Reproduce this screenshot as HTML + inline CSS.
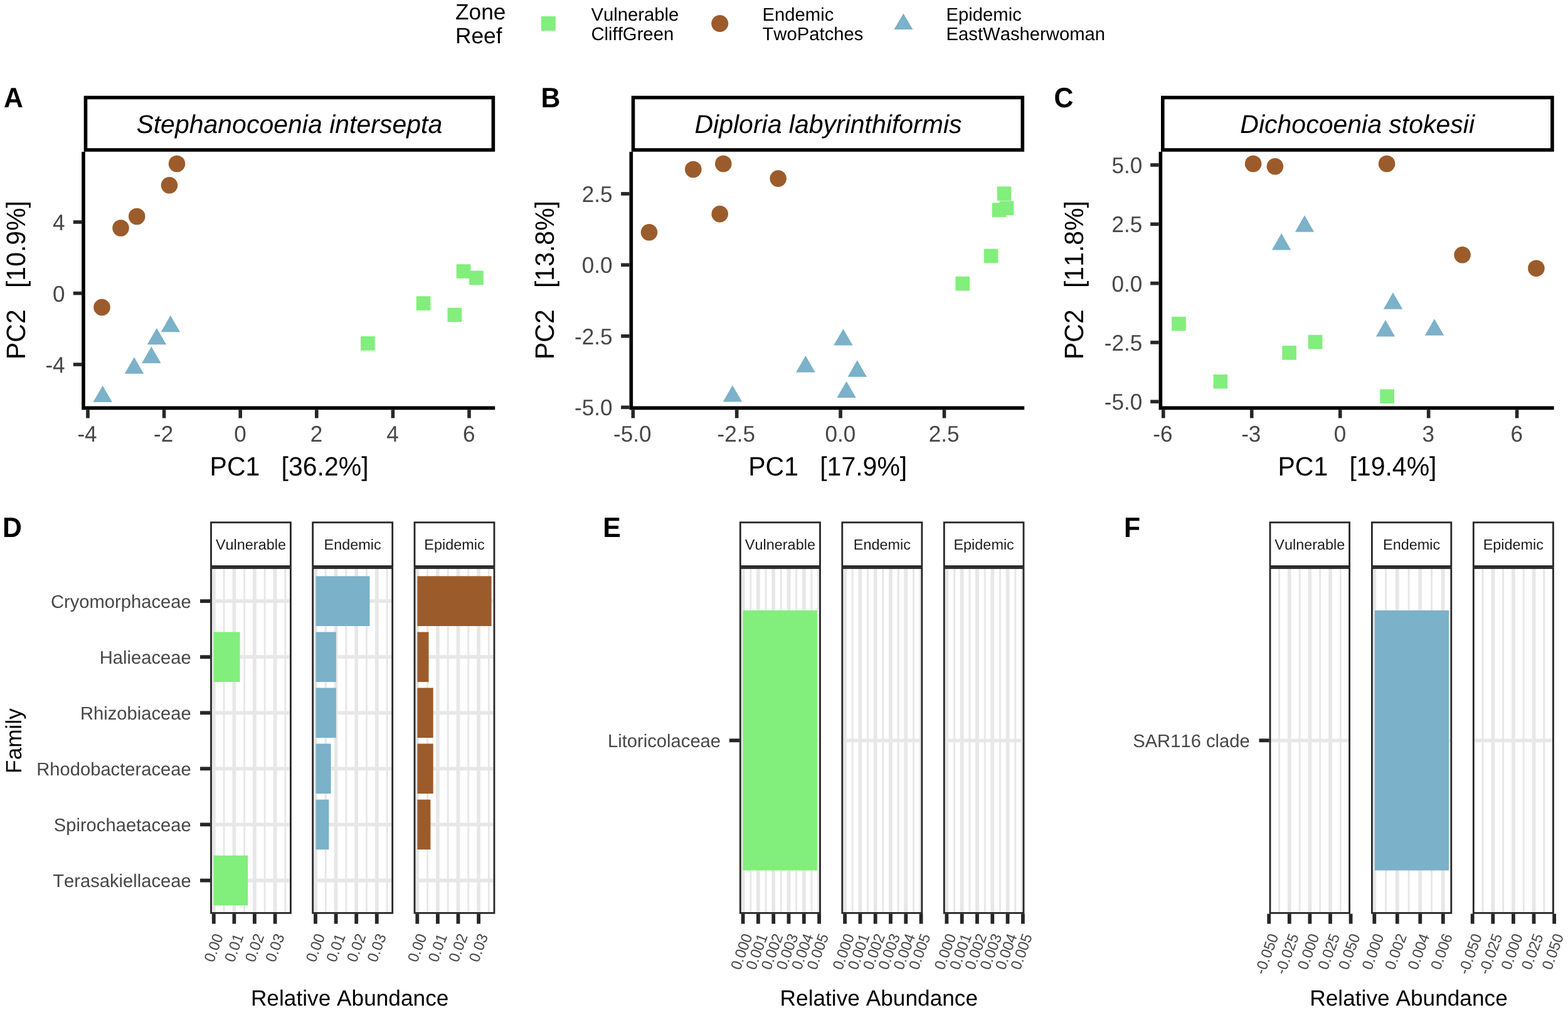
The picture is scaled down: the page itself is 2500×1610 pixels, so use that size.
<!DOCTYPE html>
<html lang="en">
<head>
<meta charset="utf-8">
<title>Figure: PCA by coral species and differentially abundant families</title>
<style>
html,body{margin:0;padding:0;background:#fff;}
body{width:2500px;height:1610px;overflow:hidden;}
svg{display:block;font-family:"Liberation Sans", Arial, Helvetica, sans-serif;}
svg text{font-family:"Liberation Sans", Arial, Helvetica, sans-serif;font-kerning:none;text-rendering:geometricPrecision;}
</style>
</head>
<body>
<svg width="2500" height="1610" viewBox="0 0 2500 1610" role="img" aria-label="PCA ordinations by coral species and relative abundance of differentially abundant bacterial families">
<rect x="0" y="0" width="2500" height="1610" fill="#ffffff"/>
<text font-size="35.3" fill="#000" x="726.00" y="31.10">Zone</text>
<text font-size="35.3" fill="#000" x="726.00" y="68.60">Reef</text>
<rect x="862.8" y="26.0" width="23" height="23" fill="#82EE7C"/>
<text font-size="29.25" fill="#000" x="942.50" y="32.90">Vulnerable</text>
<text font-size="29.25" fill="#000" x="942.50" y="63.50">CliffGreen</text>
<circle cx="1147.7" cy="37.5" r="13.5" fill="#9C5B2B"/>
<text font-size="29.25" fill="#000" x="1215.50" y="32.90">Endemic</text>
<text font-size="29.25" fill="#000" x="1215.50" y="63.50">TwoPatches</text>
<polygon points="1440.4,21.5 1455.4,46.9 1425.4,46.9" fill="#7BB1C9"/>
<text font-size="29.25" fill="#000" x="1508.50" y="32.90">Epidemic</text>
<text font-size="29.25" fill="#000" x="1508.50" y="63.50">EastWasherwoman</text>
<text font-size="42.8" fill="#000" font-weight="bold" transform="translate(6.00,170.50) scale(1,1.045)">A</text>
<rect x="136.5" y="155.5" width="649.9" height="83.5" fill="#fff" stroke="#000" stroke-width="5.6"/>
<text font-size="41.0" fill="#000" text-anchor="middle" font-style="italic" x="461.30" y="212.30">Stephanocoenia intersepta</text>
<rect x="727.7" y="421.2" width="22.6" height="22.6" fill="#82EE7C"/>
<rect x="748.2" y="431.5" width="22.6" height="22.6" fill="#82EE7C"/>
<rect x="663.8" y="472.2" width="22.6" height="22.6" fill="#82EE7C"/>
<rect x="713.5" y="490.6" width="22.6" height="22.6" fill="#82EE7C"/>
<rect x="575.1" y="536.1" width="22.6" height="22.6" fill="#82EE7C"/>
<polygon points="271.8,502.8 287.1,529.2 256.6,529.2" fill="#7BB1C9"/>
<polygon points="249.9,522.9 265.1,549.3 234.7,549.3" fill="#7BB1C9"/>
<polygon points="241.3,552.5 256.6,578.9 226.1,578.9" fill="#7BB1C9"/>
<polygon points="213.9,569.3 229.2,595.7 198.7,595.7" fill="#7BB1C9"/>
<polygon points="163.7,614.7 178.9,641.1 148.4,641.1" fill="#7BB1C9"/>
<circle cx="282.0" cy="261.0" r="13.3" fill="#9C5B2B"/>
<circle cx="270.0" cy="295.3" r="13.3" fill="#9C5B2B"/>
<circle cx="218.2" cy="345.0" r="13.3" fill="#9C5B2B"/>
<circle cx="192.5" cy="363.5" r="13.3" fill="#9C5B2B"/>
<circle cx="162.5" cy="489.9" r="13.3" fill="#9C5B2B"/>
<path d="M133.0,242.0 V650.4 H789.2" fill="none" stroke="#000" stroke-width="5.6" stroke-linejoin="miter"/>
<line x1="140.0" y1="653.2" x2="140.0" y2="666.5" stroke="#262626" stroke-width="5.6"/>
<text font-size="35.1" fill="#474747" text-anchor="middle" transform="translate(139.00,704.40) scale(1,1.03)">-4</text>
<line x1="261.6" y1="653.2" x2="261.6" y2="666.5" stroke="#262626" stroke-width="5.6"/>
<text font-size="35.1" fill="#474747" text-anchor="middle" transform="translate(260.60,704.40) scale(1,1.03)">-2</text>
<line x1="383.2" y1="653.2" x2="383.2" y2="666.5" stroke="#262626" stroke-width="5.6"/>
<text font-size="35.1" fill="#474747" text-anchor="middle" transform="translate(382.90,704.40) scale(1,1.03)">0</text>
<line x1="504.79999999999995" y1="653.2" x2="504.79999999999995" y2="666.5" stroke="#262626" stroke-width="5.6"/>
<text font-size="35.1" fill="#474747" text-anchor="middle" transform="translate(504.50,704.40) scale(1,1.03)">2</text>
<line x1="626.4" y1="653.2" x2="626.4" y2="666.5" stroke="#262626" stroke-width="5.6"/>
<text font-size="35.1" fill="#474747" text-anchor="middle" transform="translate(626.10,704.40) scale(1,1.03)">4</text>
<line x1="748.0" y1="653.2" x2="748.0" y2="666.5" stroke="#262626" stroke-width="5.6"/>
<text font-size="35.1" fill="#474747" text-anchor="middle" transform="translate(747.70,704.40) scale(1,1.03)">6</text>
<line x1="116.8" y1="354.0" x2="130.2" y2="354.0" stroke="#262626" stroke-width="5.6"/>
<text font-size="35.1" fill="#474747" text-anchor="end" transform="translate(103.60,367.00) scale(1,1.03)">4</text>
<line x1="116.8" y1="467.5" x2="130.2" y2="467.5" stroke="#262626" stroke-width="5.6"/>
<text font-size="35.1" fill="#474747" text-anchor="end" transform="translate(103.60,480.50) scale(1,1.03)">0</text>
<line x1="116.8" y1="581.0" x2="130.2" y2="581.0" stroke="#262626" stroke-width="5.6"/>
<text font-size="35.1" fill="#474747" text-anchor="end" transform="translate(103.60,594.00) scale(1,1.03)">-4</text>
<text font-size="41" fill="#000" text-anchor="middle" transform="translate(461.10,757.60) scale(1,1.035)" xml:space="preserve" style="white-space:pre">PC1   [36.2%]</text>
<text font-size="41" fill="#000" text-anchor="middle" transform="translate(40.00,446.50) rotate(-90) scale(1,1.035)" xml:space="preserve" style="white-space:pre">PC2   [10.9%]</text>
<text font-size="42.8" fill="#000" font-weight="bold" transform="translate(862.40,170.50) scale(1,1.045)">B</text>
<rect x="1009.5" y="155.5" width="620.8" height="83.5" fill="#fff" stroke="#000" stroke-width="5.6"/>
<text font-size="41.0" fill="#000" text-anchor="middle" font-style="italic" x="1320.50" y="212.30">Diploria labyrinthiformis</text>
<rect x="1589.8" y="297.3" width="22.6" height="22.6" fill="#82EE7C"/>
<rect x="1593.7" y="320.4" width="22.6" height="22.6" fill="#82EE7C"/>
<rect x="1581.7" y="323.4" width="22.6" height="22.6" fill="#82EE7C"/>
<rect x="1568.8" y="396.7" width="22.6" height="22.6" fill="#82EE7C"/>
<rect x="1523.4" y="440.8" width="22.6" height="22.6" fill="#82EE7C"/>
<polygon points="1344.4,524.2 1359.7,550.6 1329.2,550.6" fill="#7BB1C9"/>
<polygon points="1284.4,567.0 1299.7,593.4 1269.2,593.4" fill="#7BB1C9"/>
<polygon points="1366.7,574.3 1382.0,600.7 1351.5,600.7" fill="#7BB1C9"/>
<polygon points="1349.6,607.7 1364.8,634.1 1334.3,634.1" fill="#7BB1C9"/>
<polygon points="1167.9,614.2 1183.2,640.6 1152.7,640.6" fill="#7BB1C9"/>
<circle cx="1105.3" cy="270.0" r="13.3" fill="#9C5B2B"/>
<circle cx="1153.3" cy="261.0" r="13.3" fill="#9C5B2B"/>
<circle cx="1240.7" cy="284.6" r="13.3" fill="#9C5B2B"/>
<circle cx="1147.7" cy="341.1" r="13.3" fill="#9C5B2B"/>
<circle cx="1035.0" cy="370.3" r="13.3" fill="#9C5B2B"/>
<path d="M1006.3,242.0 V650.4 H1633.2" fill="none" stroke="#000" stroke-width="5.6" stroke-linejoin="miter"/>
<line x1="1009.3" y1="653.2" x2="1009.3" y2="666.5" stroke="#262626" stroke-width="5.6"/>
<text font-size="35.1" fill="#474747" text-anchor="middle" transform="translate(1008.30,704.40) scale(1,1.03)">-5.0</text>
<line x1="1174.7" y1="653.2" x2="1174.7" y2="666.5" stroke="#262626" stroke-width="5.6"/>
<text font-size="35.1" fill="#474747" text-anchor="middle" transform="translate(1173.70,704.40) scale(1,1.03)">-2.5</text>
<line x1="1340.1" y1="653.2" x2="1340.1" y2="666.5" stroke="#262626" stroke-width="5.6"/>
<text font-size="35.1" fill="#474747" text-anchor="middle" transform="translate(1339.80,704.40) scale(1,1.03)">0.0</text>
<line x1="1505.5" y1="653.2" x2="1505.5" y2="666.5" stroke="#262626" stroke-width="5.6"/>
<text font-size="35.1" fill="#474747" text-anchor="middle" transform="translate(1505.20,704.40) scale(1,1.03)">2.5</text>
<line x1="990.1" y1="308.9" x2="1003.5" y2="308.9" stroke="#262626" stroke-width="5.6"/>
<text font-size="35.1" fill="#474747" text-anchor="end" transform="translate(976.50,321.90) scale(1,1.03)">2.5</text>
<line x1="990.1" y1="422.3" x2="1003.5" y2="422.3" stroke="#262626" stroke-width="5.6"/>
<text font-size="35.1" fill="#474747" text-anchor="end" transform="translate(976.50,435.30) scale(1,1.03)">0.0</text>
<line x1="990.1" y1="535.8" x2="1003.5" y2="535.8" stroke="#262626" stroke-width="5.6"/>
<text font-size="35.1" fill="#474747" text-anchor="end" transform="translate(976.50,548.80) scale(1,1.03)">-2.5</text>
<line x1="990.1" y1="649.3" x2="1003.5" y2="649.3" stroke="#262626" stroke-width="5.6"/>
<text font-size="35.1" fill="#474747" text-anchor="end" transform="translate(976.50,662.30) scale(1,1.03)">-5.0</text>
<text font-size="41" fill="#000" text-anchor="middle" transform="translate(1319.75,757.60) scale(1,1.035)" xml:space="preserve" style="white-space:pre">PC1   [17.9%]</text>
<text font-size="41" fill="#000" text-anchor="middle" transform="translate(883.20,446.50) rotate(-90) scale(1,1.035)" xml:space="preserve" style="white-space:pre">PC2   [13.8%]</text>
<text font-size="42.8" fill="#000" font-weight="bold" transform="translate(1680.60,170.50) scale(1,1.045)">C</text>
<rect x="1853.8" y="155.5" width="621.1" height="83.5" fill="#fff" stroke="#000" stroke-width="5.6"/>
<text font-size="41.0" fill="#000" text-anchor="middle" font-style="italic" x="2164.20" y="212.30">Dichocoenia stokesii</text>
<rect x="1868.1" y="504.8" width="22.6" height="22.6" fill="#82EE7C"/>
<rect x="2085.8" y="533.9" width="22.6" height="22.6" fill="#82EE7C"/>
<rect x="2044.3" y="551.1" width="22.6" height="22.6" fill="#82EE7C"/>
<rect x="1934.6" y="596.9" width="22.6" height="22.6" fill="#82EE7C"/>
<rect x="2200.3" y="620.5" width="22.6" height="22.6" fill="#82EE7C"/>
<polygon points="2080.0,343.3 2095.2,369.7 2064.8,369.7" fill="#7BB1C9"/>
<polygon points="2043.1,372.0 2058.3,398.4 2027.8,398.4" fill="#7BB1C9"/>
<polygon points="2221.0,466.3 2236.2,492.7 2205.8,492.7" fill="#7BB1C9"/>
<polygon points="2209.0,510.0 2224.2,536.4 2193.8,536.4" fill="#7BB1C9"/>
<polygon points="2287.0,508.3 2302.2,534.7 2271.8,534.7" fill="#7BB1C9"/>
<circle cx="1998.1" cy="261.0" r="13.3" fill="#9C5B2B"/>
<circle cx="2032.9" cy="265.3" r="13.3" fill="#9C5B2B"/>
<circle cx="2211.1" cy="261.0" r="13.3" fill="#9C5B2B"/>
<circle cx="2331.6" cy="406.3" r="13.3" fill="#9C5B2B"/>
<circle cx="2449.4" cy="427.7" r="13.3" fill="#9C5B2B"/>
<path d="M1850.4,242.0 V650.4 H2477.6" fill="none" stroke="#000" stroke-width="5.6" stroke-linejoin="miter"/>
<line x1="1854.8" y1="653.2" x2="1854.8" y2="666.5" stroke="#262626" stroke-width="5.6"/>
<text font-size="35.1" fill="#474747" text-anchor="middle" transform="translate(1853.80,704.40) scale(1,1.03)">-6</text>
<line x1="1995.75" y1="653.2" x2="1995.75" y2="666.5" stroke="#262626" stroke-width="5.6"/>
<text font-size="35.1" fill="#474747" text-anchor="middle" transform="translate(1994.75,704.40) scale(1,1.03)">-3</text>
<line x1="2136.7" y1="653.2" x2="2136.7" y2="666.5" stroke="#262626" stroke-width="5.6"/>
<text font-size="35.1" fill="#474747" text-anchor="middle" transform="translate(2136.40,704.40) scale(1,1.03)">0</text>
<line x1="2277.65" y1="653.2" x2="2277.65" y2="666.5" stroke="#262626" stroke-width="5.6"/>
<text font-size="35.1" fill="#474747" text-anchor="middle" transform="translate(2277.35,704.40) scale(1,1.03)">3</text>
<line x1="2418.6" y1="653.2" x2="2418.6" y2="666.5" stroke="#262626" stroke-width="5.6"/>
<text font-size="35.1" fill="#474747" text-anchor="middle" transform="translate(2418.30,704.40) scale(1,1.03)">6</text>
<line x1="1834.2" y1="263.0" x2="1847.6" y2="263.0" stroke="#262626" stroke-width="5.6"/>
<text font-size="35.1" fill="#474747" text-anchor="end" transform="translate(1821.20,276.00) scale(1,1.03)">5.0</text>
<line x1="1834.2" y1="357.3" x2="1847.6" y2="357.3" stroke="#262626" stroke-width="5.6"/>
<text font-size="35.1" fill="#474747" text-anchor="end" transform="translate(1821.20,370.30) scale(1,1.03)">2.5</text>
<line x1="1834.2" y1="451.6" x2="1847.6" y2="451.6" stroke="#262626" stroke-width="5.6"/>
<text font-size="35.1" fill="#474747" text-anchor="end" transform="translate(1821.20,464.60) scale(1,1.03)">0.0</text>
<line x1="1834.2" y1="545.9" x2="1847.6" y2="545.9" stroke="#262626" stroke-width="5.6"/>
<text font-size="35.1" fill="#474747" text-anchor="end" transform="translate(1821.20,558.90) scale(1,1.03)">-2.5</text>
<line x1="1834.2" y1="640.2" x2="1847.6" y2="640.2" stroke="#262626" stroke-width="5.6"/>
<text font-size="35.1" fill="#474747" text-anchor="end" transform="translate(1821.20,653.20) scale(1,1.03)">-5.0</text>
<text font-size="41" fill="#000" text-anchor="middle" transform="translate(2164.00,757.60) scale(1,1.035)" xml:space="preserve" style="white-space:pre">PC1   [19.4%]</text>
<text font-size="41" fill="#000" text-anchor="middle" transform="translate(1727.20,446.50) rotate(-90) scale(1,1.035)" xml:space="preserve" style="white-space:pre">PC2   [11.8%]</text>
<text font-size="42.8" fill="#000" font-weight="bold" transform="translate(4.00,856.20) scale(1,1.045)">D</text>
<clipPath id="cp1"><rect x="336.5" y="905.5" width="126.9" height="549.9"/></clipPath>
<g clip-path="url(#cp1)">
<line x1="357.1" y1="905.5" x2="357.1" y2="1455.4" stroke="#E7E7E7" stroke-width="2.9"/>
<line x1="389.7" y1="905.5" x2="389.7" y2="1455.4" stroke="#E7E7E7" stroke-width="2.9"/>
<line x1="422.2" y1="905.5" x2="422.2" y2="1455.4" stroke="#E7E7E7" stroke-width="2.9"/>
<line x1="454.9" y1="905.5" x2="454.9" y2="1455.4" stroke="#E7E7E7" stroke-width="2.9"/>
<line x1="340.8" y1="905.5" x2="340.8" y2="1455.4" stroke="#E7E7E7" stroke-width="5.8"/>
<line x1="373.4" y1="905.5" x2="373.4" y2="1455.4" stroke="#E7E7E7" stroke-width="5.8"/>
<line x1="405.9" y1="905.5" x2="405.9" y2="1455.4" stroke="#E7E7E7" stroke-width="5.8"/>
<line x1="438.6" y1="905.5" x2="438.6" y2="1455.4" stroke="#E7E7E7" stroke-width="5.8"/>
<line x1="336.5" y1="958.2" x2="463.4" y2="958.2" stroke="#E7E7E7" stroke-width="5.8"/>
<line x1="336.5" y1="1047.2" x2="463.4" y2="1047.2" stroke="#E7E7E7" stroke-width="5.8"/>
<line x1="336.5" y1="1136.3" x2="463.4" y2="1136.3" stroke="#E7E7E7" stroke-width="5.8"/>
<line x1="336.5" y1="1225.3" x2="463.4" y2="1225.3" stroke="#E7E7E7" stroke-width="5.8"/>
<line x1="336.5" y1="1314.4" x2="463.4" y2="1314.4" stroke="#E7E7E7" stroke-width="5.8"/>
<line x1="336.5" y1="1403.5" x2="463.4" y2="1403.5" stroke="#E7E7E7" stroke-width="5.8"/>
<rect x="340.6" y="1007.5" width="42.0" height="79.6" fill="#82EE7C"/>
<rect x="340.6" y="1363.7" width="54.6" height="79.6" fill="#82EE7C"/>
</g>
<rect x="336.5" y="905.5" width="126.9" height="549.9" fill="none" stroke="#262626" stroke-width="2.8"/>
<rect x="336.5" y="832.8" width="126.9" height="69.8" fill="#fff" stroke="#262626" stroke-width="2.8"/>
<text font-size="23.45" fill="#1A1A1A" text-anchor="middle" x="399.95" y="876.20">Vulnerable</text>
<line x1="340.8" y1="1456.6" x2="340.8" y2="1472.6" stroke="#262626" stroke-width="5.8"/>
<text font-size="23.5" fill="#474747" text-anchor="end" transform="translate(356.15,1492.20) rotate(-70) scale(1,1.03)">0.00</text>
<line x1="373.4" y1="1456.6" x2="373.4" y2="1472.6" stroke="#262626" stroke-width="5.8"/>
<text font-size="23.5" fill="#474747" text-anchor="end" transform="translate(388.75,1492.20) rotate(-70) scale(1,1.03)">0.01</text>
<line x1="405.9" y1="1456.6" x2="405.9" y2="1472.6" stroke="#262626" stroke-width="5.8"/>
<text font-size="23.5" fill="#474747" text-anchor="end" transform="translate(421.35,1492.20) rotate(-70) scale(1,1.03)">0.02</text>
<line x1="438.6" y1="1456.6" x2="438.6" y2="1472.6" stroke="#262626" stroke-width="5.8"/>
<text font-size="23.5" fill="#474747" text-anchor="end" transform="translate(453.95,1492.20) rotate(-70) scale(1,1.03)">0.03</text>
<clipPath id="cp2"><rect x="498.7" y="905.5" width="127.0" height="549.9"/></clipPath>
<g clip-path="url(#cp2)">
<line x1="519.3" y1="905.5" x2="519.3" y2="1455.4" stroke="#E7E7E7" stroke-width="2.9"/>
<line x1="551.9" y1="905.5" x2="551.9" y2="1455.4" stroke="#E7E7E7" stroke-width="2.9"/>
<line x1="584.5" y1="905.5" x2="584.5" y2="1455.4" stroke="#E7E7E7" stroke-width="2.9"/>
<line x1="617.1" y1="905.5" x2="617.1" y2="1455.4" stroke="#E7E7E7" stroke-width="2.9"/>
<line x1="503.0" y1="905.5" x2="503.0" y2="1455.4" stroke="#E7E7E7" stroke-width="5.8"/>
<line x1="535.6" y1="905.5" x2="535.6" y2="1455.4" stroke="#E7E7E7" stroke-width="5.8"/>
<line x1="568.2" y1="905.5" x2="568.2" y2="1455.4" stroke="#E7E7E7" stroke-width="5.8"/>
<line x1="600.8" y1="905.5" x2="600.8" y2="1455.4" stroke="#E7E7E7" stroke-width="5.8"/>
<line x1="498.7" y1="958.2" x2="625.7" y2="958.2" stroke="#E7E7E7" stroke-width="5.8"/>
<line x1="498.7" y1="1047.2" x2="625.7" y2="1047.2" stroke="#E7E7E7" stroke-width="5.8"/>
<line x1="498.7" y1="1136.3" x2="625.7" y2="1136.3" stroke="#E7E7E7" stroke-width="5.8"/>
<line x1="498.7" y1="1225.3" x2="625.7" y2="1225.3" stroke="#E7E7E7" stroke-width="5.8"/>
<line x1="498.7" y1="1314.4" x2="625.7" y2="1314.4" stroke="#E7E7E7" stroke-width="5.8"/>
<line x1="498.7" y1="1403.5" x2="625.7" y2="1403.5" stroke="#E7E7E7" stroke-width="5.8"/>
<rect x="503.6" y="918.4" width="85.9" height="79.6" fill="#7BB1C9"/>
<rect x="503.6" y="1007.5" width="32.3" height="79.6" fill="#7BB1C9"/>
<rect x="503.6" y="1096.5" width="32.3" height="79.6" fill="#7BB1C9"/>
<rect x="503.6" y="1185.5" width="24.0" height="79.6" fill="#7BB1C9"/>
<rect x="503.6" y="1274.6" width="20.8" height="79.6" fill="#7BB1C9"/>
</g>
<rect x="498.7" y="905.5" width="127.0" height="549.9" fill="none" stroke="#262626" stroke-width="2.8"/>
<rect x="498.7" y="832.8" width="127.0" height="69.8" fill="#fff" stroke="#262626" stroke-width="2.8"/>
<text font-size="23.45" fill="#1A1A1A" text-anchor="middle" x="562.20" y="876.20">Endemic</text>
<line x1="503.0" y1="1456.6" x2="503.0" y2="1472.6" stroke="#262626" stroke-width="5.8"/>
<text font-size="23.5" fill="#474747" text-anchor="end" transform="translate(518.40,1492.20) rotate(-70) scale(1,1.03)">0.00</text>
<line x1="535.6" y1="1456.6" x2="535.6" y2="1472.6" stroke="#262626" stroke-width="5.8"/>
<text font-size="23.5" fill="#474747" text-anchor="end" transform="translate(551.00,1492.20) rotate(-70) scale(1,1.03)">0.01</text>
<line x1="568.2" y1="1456.6" x2="568.2" y2="1472.6" stroke="#262626" stroke-width="5.8"/>
<text font-size="23.5" fill="#474747" text-anchor="end" transform="translate(583.60,1492.20) rotate(-70) scale(1,1.03)">0.02</text>
<line x1="600.8" y1="1456.6" x2="600.8" y2="1472.6" stroke="#262626" stroke-width="5.8"/>
<text font-size="23.5" fill="#474747" text-anchor="end" transform="translate(616.20,1492.20) rotate(-70) scale(1,1.03)">0.03</text>
<clipPath id="cp3"><rect x="661.0" y="905.5" width="127.0" height="549.9"/></clipPath>
<g clip-path="url(#cp3)">
<line x1="681.6" y1="905.5" x2="681.6" y2="1455.4" stroke="#E7E7E7" stroke-width="2.9"/>
<line x1="714.2" y1="905.5" x2="714.2" y2="1455.4" stroke="#E7E7E7" stroke-width="2.9"/>
<line x1="746.8" y1="905.5" x2="746.8" y2="1455.4" stroke="#E7E7E7" stroke-width="2.9"/>
<line x1="779.4" y1="905.5" x2="779.4" y2="1455.4" stroke="#E7E7E7" stroke-width="2.9"/>
<line x1="665.3" y1="905.5" x2="665.3" y2="1455.4" stroke="#E7E7E7" stroke-width="5.8"/>
<line x1="697.9" y1="905.5" x2="697.9" y2="1455.4" stroke="#E7E7E7" stroke-width="5.8"/>
<line x1="730.5" y1="905.5" x2="730.5" y2="1455.4" stroke="#E7E7E7" stroke-width="5.8"/>
<line x1="763.1" y1="905.5" x2="763.1" y2="1455.4" stroke="#E7E7E7" stroke-width="5.8"/>
<line x1="661.0" y1="958.2" x2="788.0" y2="958.2" stroke="#E7E7E7" stroke-width="5.8"/>
<line x1="661.0" y1="1047.2" x2="788.0" y2="1047.2" stroke="#E7E7E7" stroke-width="5.8"/>
<line x1="661.0" y1="1136.3" x2="788.0" y2="1136.3" stroke="#E7E7E7" stroke-width="5.8"/>
<line x1="661.0" y1="1225.3" x2="788.0" y2="1225.3" stroke="#E7E7E7" stroke-width="5.8"/>
<line x1="661.0" y1="1314.4" x2="788.0" y2="1314.4" stroke="#E7E7E7" stroke-width="5.8"/>
<line x1="661.0" y1="1403.5" x2="788.0" y2="1403.5" stroke="#E7E7E7" stroke-width="5.8"/>
<rect x="665.4" y="918.4" width="118.2" height="79.6" fill="#9C5B2B"/>
<rect x="665.4" y="1007.5" width="18.1" height="79.6" fill="#9C5B2B"/>
<rect x="665.4" y="1096.5" width="25.3" height="79.6" fill="#9C5B2B"/>
<rect x="665.4" y="1185.5" width="25.3" height="79.6" fill="#9C5B2B"/>
<rect x="665.4" y="1274.6" width="21.0" height="79.6" fill="#9C5B2B"/>
</g>
<rect x="661.0" y="905.5" width="127.0" height="549.9" fill="none" stroke="#262626" stroke-width="2.8"/>
<rect x="661.0" y="832.8" width="127.0" height="69.8" fill="#fff" stroke="#262626" stroke-width="2.8"/>
<text font-size="23.45" fill="#1A1A1A" text-anchor="middle" x="724.50" y="876.20">Epidemic</text>
<line x1="665.3" y1="1456.6" x2="665.3" y2="1472.6" stroke="#262626" stroke-width="5.8"/>
<text font-size="23.5" fill="#474747" text-anchor="end" transform="translate(680.70,1492.20) rotate(-70) scale(1,1.03)">0.00</text>
<line x1="697.9" y1="1456.6" x2="697.9" y2="1472.6" stroke="#262626" stroke-width="5.8"/>
<text font-size="23.5" fill="#474747" text-anchor="end" transform="translate(713.30,1492.20) rotate(-70) scale(1,1.03)">0.01</text>
<line x1="730.5" y1="1456.6" x2="730.5" y2="1472.6" stroke="#262626" stroke-width="5.8"/>
<text font-size="23.5" fill="#474747" text-anchor="end" transform="translate(745.90,1492.20) rotate(-70) scale(1,1.03)">0.02</text>
<line x1="763.1" y1="1456.6" x2="763.1" y2="1472.6" stroke="#262626" stroke-width="5.8"/>
<text font-size="23.5" fill="#474747" text-anchor="end" transform="translate(778.50,1492.20) rotate(-70) scale(1,1.03)">0.03</text>
<line x1="319.0" y1="958.2" x2="335.1" y2="958.2" stroke="#262626" stroke-width="5.8"/>
<text font-size="29.2" fill="#474747" text-anchor="end" x="304.80" y="969.00">Cryomorphaceae</text>
<line x1="319.0" y1="1047.2" x2="335.1" y2="1047.2" stroke="#262626" stroke-width="5.8"/>
<text font-size="29.2" fill="#474747" text-anchor="end" x="304.80" y="1058.05">Halieaceae</text>
<line x1="319.0" y1="1136.3" x2="335.1" y2="1136.3" stroke="#262626" stroke-width="5.8"/>
<text font-size="29.2" fill="#474747" text-anchor="end" x="304.80" y="1147.10">Rhizobiaceae</text>
<line x1="319.0" y1="1225.3" x2="335.1" y2="1225.3" stroke="#262626" stroke-width="5.8"/>
<text font-size="29.2" fill="#474747" text-anchor="end" x="304.80" y="1236.15">Rhodobacteraceae</text>
<line x1="319.0" y1="1314.4" x2="335.1" y2="1314.4" stroke="#262626" stroke-width="5.8"/>
<text font-size="29.2" fill="#474747" text-anchor="end" x="304.80" y="1325.20">Spirochaetaceae</text>
<line x1="319.0" y1="1403.5" x2="335.1" y2="1403.5" stroke="#262626" stroke-width="5.8"/>
<text font-size="29.2" fill="#474747" text-anchor="end" x="304.80" y="1414.25">Terasakiellaceae</text>
<text font-size="35.25" fill="#000" text-anchor="middle" x="557.65" y="1602.80">Relative Abundance</text>
<text font-size="35.25" fill="#000" text-anchor="middle" transform="translate(34.20,1181.00) rotate(-90)">Family</text>
<text font-size="42.8" fill="#000" font-weight="bold" transform="translate(961.20,856.20) scale(1,1.045)">E</text>
<clipPath id="cp4"><rect x="1180.3" y="905.5" width="127.2" height="549.9"/></clipPath>
<g clip-path="url(#cp4)">
<line x1="1196.8" y1="905.5" x2="1196.8" y2="1455.4" stroke="#E7E7E7" stroke-width="2.9"/>
<line x1="1221.0" y1="905.5" x2="1221.0" y2="1455.4" stroke="#E7E7E7" stroke-width="2.9"/>
<line x1="1245.3" y1="905.5" x2="1245.3" y2="1455.4" stroke="#E7E7E7" stroke-width="2.9"/>
<line x1="1269.7" y1="905.5" x2="1269.7" y2="1455.4" stroke="#E7E7E7" stroke-width="2.9"/>
<line x1="1294.0" y1="905.5" x2="1294.0" y2="1455.4" stroke="#E7E7E7" stroke-width="2.9"/>
<line x1="1184.6" y1="905.5" x2="1184.6" y2="1455.4" stroke="#E7E7E7" stroke-width="5.8"/>
<line x1="1208.9" y1="905.5" x2="1208.9" y2="1455.4" stroke="#E7E7E7" stroke-width="5.8"/>
<line x1="1233.2" y1="905.5" x2="1233.2" y2="1455.4" stroke="#E7E7E7" stroke-width="5.8"/>
<line x1="1257.5" y1="905.5" x2="1257.5" y2="1455.4" stroke="#E7E7E7" stroke-width="5.8"/>
<line x1="1281.8" y1="905.5" x2="1281.8" y2="1455.4" stroke="#E7E7E7" stroke-width="5.8"/>
<line x1="1306.1" y1="905.5" x2="1306.1" y2="1455.4" stroke="#E7E7E7" stroke-width="5.8"/>
<line x1="1180.3" y1="1180.3" x2="1307.5" y2="1180.3" stroke="#E7E7E7" stroke-width="5.8"/>
<rect x="1184.5" y="973.0" width="118.4" height="414.5" fill="#82EE7C"/>
</g>
<rect x="1180.3" y="905.5" width="127.2" height="549.9" fill="none" stroke="#262626" stroke-width="2.8"/>
<rect x="1180.3" y="832.8" width="127.2" height="69.8" fill="#fff" stroke="#262626" stroke-width="2.8"/>
<text font-size="23.45" fill="#1A1A1A" text-anchor="middle" x="1243.90" y="876.20">Vulnerable</text>
<line x1="1184.6" y1="1456.6" x2="1184.6" y2="1472.6" stroke="#262626" stroke-width="5.8"/>
<text font-size="23.5" fill="#474747" text-anchor="end" transform="translate(1200.00,1492.20) rotate(-70) scale(1,1.03)">0.000</text>
<line x1="1208.9" y1="1456.6" x2="1208.9" y2="1472.6" stroke="#262626" stroke-width="5.8"/>
<text font-size="23.5" fill="#474747" text-anchor="end" transform="translate(1224.30,1492.20) rotate(-70) scale(1,1.03)">0.001</text>
<line x1="1233.2" y1="1456.6" x2="1233.2" y2="1472.6" stroke="#262626" stroke-width="5.8"/>
<text font-size="23.5" fill="#474747" text-anchor="end" transform="translate(1248.60,1492.20) rotate(-70) scale(1,1.03)">0.002</text>
<line x1="1257.5" y1="1456.6" x2="1257.5" y2="1472.6" stroke="#262626" stroke-width="5.8"/>
<text font-size="23.5" fill="#474747" text-anchor="end" transform="translate(1272.90,1492.20) rotate(-70) scale(1,1.03)">0.003</text>
<line x1="1281.8" y1="1456.6" x2="1281.8" y2="1472.6" stroke="#262626" stroke-width="5.8"/>
<text font-size="23.5" fill="#474747" text-anchor="end" transform="translate(1297.20,1492.20) rotate(-70) scale(1,1.03)">0.004</text>
<line x1="1306.1" y1="1456.6" x2="1306.1" y2="1472.6" stroke="#262626" stroke-width="5.8"/>
<text font-size="23.5" fill="#474747" text-anchor="end" transform="translate(1321.50,1492.20) rotate(-70) scale(1,1.03)">0.005</text>
<clipPath id="cp5"><rect x="1342.8" y="905.5" width="127.1" height="549.9"/></clipPath>
<g clip-path="url(#cp5)">
<line x1="1359.2" y1="905.5" x2="1359.2" y2="1455.4" stroke="#E7E7E7" stroke-width="2.9"/>
<line x1="1383.5" y1="905.5" x2="1383.5" y2="1455.4" stroke="#E7E7E7" stroke-width="2.9"/>
<line x1="1407.8" y1="905.5" x2="1407.8" y2="1455.4" stroke="#E7E7E7" stroke-width="2.9"/>
<line x1="1432.2" y1="905.5" x2="1432.2" y2="1455.4" stroke="#E7E7E7" stroke-width="2.9"/>
<line x1="1456.5" y1="905.5" x2="1456.5" y2="1455.4" stroke="#E7E7E7" stroke-width="2.9"/>
<line x1="1347.1" y1="905.5" x2="1347.1" y2="1455.4" stroke="#E7E7E7" stroke-width="5.8"/>
<line x1="1371.4" y1="905.5" x2="1371.4" y2="1455.4" stroke="#E7E7E7" stroke-width="5.8"/>
<line x1="1395.7" y1="905.5" x2="1395.7" y2="1455.4" stroke="#E7E7E7" stroke-width="5.8"/>
<line x1="1420.0" y1="905.5" x2="1420.0" y2="1455.4" stroke="#E7E7E7" stroke-width="5.8"/>
<line x1="1444.3" y1="905.5" x2="1444.3" y2="1455.4" stroke="#E7E7E7" stroke-width="5.8"/>
<line x1="1468.6" y1="905.5" x2="1468.6" y2="1455.4" stroke="#E7E7E7" stroke-width="5.8"/>
<line x1="1342.8" y1="1180.3" x2="1469.9" y2="1180.3" stroke="#E7E7E7" stroke-width="5.8"/>
</g>
<rect x="1342.8" y="905.5" width="127.1" height="549.9" fill="none" stroke="#262626" stroke-width="2.8"/>
<rect x="1342.8" y="832.8" width="127.1" height="69.8" fill="#fff" stroke="#262626" stroke-width="2.8"/>
<text font-size="23.45" fill="#1A1A1A" text-anchor="middle" x="1406.35" y="876.20">Endemic</text>
<line x1="1347.1" y1="1456.6" x2="1347.1" y2="1472.6" stroke="#262626" stroke-width="5.8"/>
<text font-size="23.5" fill="#474747" text-anchor="end" transform="translate(1362.50,1492.20) rotate(-70) scale(1,1.03)">0.000</text>
<line x1="1371.4" y1="1456.6" x2="1371.4" y2="1472.6" stroke="#262626" stroke-width="5.8"/>
<text font-size="23.5" fill="#474747" text-anchor="end" transform="translate(1386.80,1492.20) rotate(-70) scale(1,1.03)">0.001</text>
<line x1="1395.7" y1="1456.6" x2="1395.7" y2="1472.6" stroke="#262626" stroke-width="5.8"/>
<text font-size="23.5" fill="#474747" text-anchor="end" transform="translate(1411.10,1492.20) rotate(-70) scale(1,1.03)">0.002</text>
<line x1="1420.0" y1="1456.6" x2="1420.0" y2="1472.6" stroke="#262626" stroke-width="5.8"/>
<text font-size="23.5" fill="#474747" text-anchor="end" transform="translate(1435.40,1492.20) rotate(-70) scale(1,1.03)">0.003</text>
<line x1="1444.3" y1="1456.6" x2="1444.3" y2="1472.6" stroke="#262626" stroke-width="5.8"/>
<text font-size="23.5" fill="#474747" text-anchor="end" transform="translate(1459.70,1492.20) rotate(-70) scale(1,1.03)">0.004</text>
<line x1="1468.6" y1="1456.6" x2="1468.6" y2="1472.6" stroke="#262626" stroke-width="5.8"/>
<text font-size="23.5" fill="#474747" text-anchor="end" transform="translate(1484.00,1492.20) rotate(-70) scale(1,1.03)">0.005</text>
<clipPath id="cp6"><rect x="1505.3" y="905.5" width="126.7" height="549.9"/></clipPath>
<g clip-path="url(#cp6)">
<line x1="1521.6" y1="905.5" x2="1521.6" y2="1455.4" stroke="#E7E7E7" stroke-width="2.9"/>
<line x1="1545.9" y1="905.5" x2="1545.9" y2="1455.4" stroke="#E7E7E7" stroke-width="2.9"/>
<line x1="1570.2" y1="905.5" x2="1570.2" y2="1455.4" stroke="#E7E7E7" stroke-width="2.9"/>
<line x1="1594.5" y1="905.5" x2="1594.5" y2="1455.4" stroke="#E7E7E7" stroke-width="2.9"/>
<line x1="1618.8" y1="905.5" x2="1618.8" y2="1455.4" stroke="#E7E7E7" stroke-width="2.9"/>
<line x1="1509.4" y1="905.5" x2="1509.4" y2="1455.4" stroke="#E7E7E7" stroke-width="5.8"/>
<line x1="1533.7" y1="905.5" x2="1533.7" y2="1455.4" stroke="#E7E7E7" stroke-width="5.8"/>
<line x1="1558.0" y1="905.5" x2="1558.0" y2="1455.4" stroke="#E7E7E7" stroke-width="5.8"/>
<line x1="1582.3" y1="905.5" x2="1582.3" y2="1455.4" stroke="#E7E7E7" stroke-width="5.8"/>
<line x1="1606.6" y1="905.5" x2="1606.6" y2="1455.4" stroke="#E7E7E7" stroke-width="5.8"/>
<line x1="1630.9" y1="905.5" x2="1630.9" y2="1455.4" stroke="#E7E7E7" stroke-width="5.8"/>
<line x1="1505.3" y1="1180.3" x2="1632.0" y2="1180.3" stroke="#E7E7E7" stroke-width="5.8"/>
</g>
<rect x="1505.3" y="905.5" width="126.7" height="549.9" fill="none" stroke="#262626" stroke-width="2.8"/>
<rect x="1505.3" y="832.8" width="126.7" height="69.8" fill="#fff" stroke="#262626" stroke-width="2.8"/>
<text font-size="23.45" fill="#1A1A1A" text-anchor="middle" x="1568.65" y="876.20">Epidemic</text>
<line x1="1509.4" y1="1456.6" x2="1509.4" y2="1472.6" stroke="#262626" stroke-width="5.8"/>
<text font-size="23.5" fill="#474747" text-anchor="end" transform="translate(1524.80,1492.20) rotate(-70) scale(1,1.03)">0.000</text>
<line x1="1533.7" y1="1456.6" x2="1533.7" y2="1472.6" stroke="#262626" stroke-width="5.8"/>
<text font-size="23.5" fill="#474747" text-anchor="end" transform="translate(1549.10,1492.20) rotate(-70) scale(1,1.03)">0.001</text>
<line x1="1558.0" y1="1456.6" x2="1558.0" y2="1472.6" stroke="#262626" stroke-width="5.8"/>
<text font-size="23.5" fill="#474747" text-anchor="end" transform="translate(1573.40,1492.20) rotate(-70) scale(1,1.03)">0.002</text>
<line x1="1582.3" y1="1456.6" x2="1582.3" y2="1472.6" stroke="#262626" stroke-width="5.8"/>
<text font-size="23.5" fill="#474747" text-anchor="end" transform="translate(1597.70,1492.20) rotate(-70) scale(1,1.03)">0.003</text>
<line x1="1606.6" y1="1456.6" x2="1606.6" y2="1472.6" stroke="#262626" stroke-width="5.8"/>
<text font-size="23.5" fill="#474747" text-anchor="end" transform="translate(1622.00,1492.20) rotate(-70) scale(1,1.03)">0.004</text>
<line x1="1630.9" y1="1456.6" x2="1630.9" y2="1472.6" stroke="#262626" stroke-width="5.8"/>
<text font-size="23.5" fill="#474747" text-anchor="end" transform="translate(1646.30,1492.20) rotate(-70) scale(1,1.03)">0.005</text>
<line x1="1162.8" y1="1180.3" x2="1178.9" y2="1180.3" stroke="#262626" stroke-width="5.8"/>
<text font-size="29.2" fill="#474747" text-anchor="end" x="1149.10" y="1191.10">Litoricolaceae</text>
<text font-size="35.25" fill="#000" text-anchor="middle" x="1401.35" y="1602.80">Relative Abundance</text>
<text font-size="42.8" fill="#000" font-weight="bold" transform="translate(1792.10,856.20) scale(1,1.045)">F</text>
<clipPath id="cp7"><rect x="2025.0" y="905.5" width="126.6" height="549.9"/></clipPath>
<g clip-path="url(#cp7)">
<line x1="2039.5" y1="905.5" x2="2039.5" y2="1455.4" stroke="#E7E7E7" stroke-width="2.9"/>
<line x1="2072.1" y1="905.5" x2="2072.1" y2="1455.4" stroke="#E7E7E7" stroke-width="2.9"/>
<line x1="2104.7" y1="905.5" x2="2104.7" y2="1455.4" stroke="#E7E7E7" stroke-width="2.9"/>
<line x1="2137.3" y1="905.5" x2="2137.3" y2="1455.4" stroke="#E7E7E7" stroke-width="2.9"/>
<line x1="2023.2" y1="905.5" x2="2023.2" y2="1455.4" stroke="#E7E7E7" stroke-width="5.8"/>
<line x1="2055.8" y1="905.5" x2="2055.8" y2="1455.4" stroke="#E7E7E7" stroke-width="5.8"/>
<line x1="2088.4" y1="905.5" x2="2088.4" y2="1455.4" stroke="#E7E7E7" stroke-width="5.8"/>
<line x1="2121.0" y1="905.5" x2="2121.0" y2="1455.4" stroke="#E7E7E7" stroke-width="5.8"/>
<line x1="2153.6" y1="905.5" x2="2153.6" y2="1455.4" stroke="#E7E7E7" stroke-width="5.8"/>
<line x1="2025.0" y1="1180.3" x2="2151.6" y2="1180.3" stroke="#E7E7E7" stroke-width="5.8"/>
</g>
<rect x="2025.0" y="905.5" width="126.6" height="549.9" fill="none" stroke="#262626" stroke-width="2.8"/>
<rect x="2025.0" y="832.8" width="126.6" height="69.8" fill="#fff" stroke="#262626" stroke-width="2.8"/>
<text font-size="23.45" fill="#1A1A1A" text-anchor="middle" x="2088.30" y="876.20">Vulnerable</text>
<line x1="2023.2" y1="1456.6" x2="2023.2" y2="1472.6" stroke="#262626" stroke-width="5.8"/>
<text font-size="23.5" fill="#474747" text-anchor="end" transform="translate(2038.60,1492.20) rotate(-70) scale(1,1.03)">-0.050</text>
<line x1="2055.8" y1="1456.6" x2="2055.8" y2="1472.6" stroke="#262626" stroke-width="5.8"/>
<text font-size="23.5" fill="#474747" text-anchor="end" transform="translate(2071.20,1492.20) rotate(-70) scale(1,1.03)">-0.025</text>
<line x1="2088.4" y1="1456.6" x2="2088.4" y2="1472.6" stroke="#262626" stroke-width="5.8"/>
<text font-size="23.5" fill="#474747" text-anchor="end" transform="translate(2103.80,1492.20) rotate(-70) scale(1,1.03)">0.000</text>
<line x1="2121.0" y1="1456.6" x2="2121.0" y2="1472.6" stroke="#262626" stroke-width="5.8"/>
<text font-size="23.5" fill="#474747" text-anchor="end" transform="translate(2136.40,1492.20) rotate(-70) scale(1,1.03)">0.025</text>
<line x1="2153.6" y1="1456.6" x2="2153.6" y2="1472.6" stroke="#262626" stroke-width="5.8"/>
<text font-size="23.5" fill="#474747" text-anchor="end" transform="translate(2169.00,1492.20) rotate(-70) scale(1,1.03)">0.050</text>
<clipPath id="cp8"><rect x="2187.4" y="905.5" width="126.4" height="549.9"/></clipPath>
<g clip-path="url(#cp8)">
<line x1="2209.6" y1="905.5" x2="2209.6" y2="1455.4" stroke="#E7E7E7" stroke-width="2.9"/>
<line x1="2246.1" y1="905.5" x2="2246.1" y2="1455.4" stroke="#E7E7E7" stroke-width="2.9"/>
<line x1="2282.6" y1="905.5" x2="2282.6" y2="1455.4" stroke="#E7E7E7" stroke-width="2.9"/>
<line x1="2191.3" y1="905.5" x2="2191.3" y2="1455.4" stroke="#E7E7E7" stroke-width="5.8"/>
<line x1="2227.8" y1="905.5" x2="2227.8" y2="1455.4" stroke="#E7E7E7" stroke-width="5.8"/>
<line x1="2264.3" y1="905.5" x2="2264.3" y2="1455.4" stroke="#E7E7E7" stroke-width="5.8"/>
<line x1="2300.8" y1="905.5" x2="2300.8" y2="1455.4" stroke="#E7E7E7" stroke-width="5.8"/>
<line x1="2187.4" y1="1180.3" x2="2313.8" y2="1180.3" stroke="#E7E7E7" stroke-width="5.8"/>
<rect x="2191.8" y="973.0" width="118.3" height="414.5" fill="#7BB1C9"/>
</g>
<rect x="2187.4" y="905.5" width="126.4" height="549.9" fill="none" stroke="#262626" stroke-width="2.8"/>
<rect x="2187.4" y="832.8" width="126.4" height="69.8" fill="#fff" stroke="#262626" stroke-width="2.8"/>
<text font-size="23.45" fill="#1A1A1A" text-anchor="middle" x="2250.60" y="876.20">Endemic</text>
<line x1="2191.3" y1="1456.6" x2="2191.3" y2="1472.6" stroke="#262626" stroke-width="5.8"/>
<text font-size="23.5" fill="#474747" text-anchor="end" transform="translate(2206.70,1492.20) rotate(-70) scale(1,1.03)">0.000</text>
<line x1="2227.8" y1="1456.6" x2="2227.8" y2="1472.6" stroke="#262626" stroke-width="5.8"/>
<text font-size="23.5" fill="#474747" text-anchor="end" transform="translate(2243.20,1492.20) rotate(-70) scale(1,1.03)">0.002</text>
<line x1="2264.3" y1="1456.6" x2="2264.3" y2="1472.6" stroke="#262626" stroke-width="5.8"/>
<text font-size="23.5" fill="#474747" text-anchor="end" transform="translate(2279.70,1492.20) rotate(-70) scale(1,1.03)">0.004</text>
<line x1="2300.8" y1="1456.6" x2="2300.8" y2="1472.6" stroke="#262626" stroke-width="5.8"/>
<text font-size="23.5" fill="#474747" text-anchor="end" transform="translate(2316.20,1492.20) rotate(-70) scale(1,1.03)">0.006</text>
<clipPath id="cp9"><rect x="2349.3" y="905.5" width="127.1" height="549.9"/></clipPath>
<g clip-path="url(#cp9)">
<line x1="2364.0" y1="905.5" x2="2364.0" y2="1455.4" stroke="#E7E7E7" stroke-width="2.9"/>
<line x1="2396.6" y1="905.5" x2="2396.6" y2="1455.4" stroke="#E7E7E7" stroke-width="2.9"/>
<line x1="2429.2" y1="905.5" x2="2429.2" y2="1455.4" stroke="#E7E7E7" stroke-width="2.9"/>
<line x1="2461.8" y1="905.5" x2="2461.8" y2="1455.4" stroke="#E7E7E7" stroke-width="2.9"/>
<line x1="2347.7" y1="905.5" x2="2347.7" y2="1455.4" stroke="#E7E7E7" stroke-width="5.8"/>
<line x1="2380.3" y1="905.5" x2="2380.3" y2="1455.4" stroke="#E7E7E7" stroke-width="5.8"/>
<line x1="2412.9" y1="905.5" x2="2412.9" y2="1455.4" stroke="#E7E7E7" stroke-width="5.8"/>
<line x1="2445.5" y1="905.5" x2="2445.5" y2="1455.4" stroke="#E7E7E7" stroke-width="5.8"/>
<line x1="2478.1" y1="905.5" x2="2478.1" y2="1455.4" stroke="#E7E7E7" stroke-width="5.8"/>
<line x1="2349.3" y1="1180.3" x2="2476.4" y2="1180.3" stroke="#E7E7E7" stroke-width="5.8"/>
</g>
<rect x="2349.3" y="905.5" width="127.1" height="549.9" fill="none" stroke="#262626" stroke-width="2.8"/>
<rect x="2349.3" y="832.8" width="127.1" height="69.8" fill="#fff" stroke="#262626" stroke-width="2.8"/>
<text font-size="23.45" fill="#1A1A1A" text-anchor="middle" x="2412.85" y="876.20">Epidemic</text>
<line x1="2347.7" y1="1456.6" x2="2347.7" y2="1472.6" stroke="#262626" stroke-width="5.8"/>
<text font-size="23.5" fill="#474747" text-anchor="end" transform="translate(2363.10,1492.20) rotate(-70) scale(1,1.03)">-0.050</text>
<line x1="2380.3" y1="1456.6" x2="2380.3" y2="1472.6" stroke="#262626" stroke-width="5.8"/>
<text font-size="23.5" fill="#474747" text-anchor="end" transform="translate(2395.70,1492.20) rotate(-70) scale(1,1.03)">-0.025</text>
<line x1="2412.9" y1="1456.6" x2="2412.9" y2="1472.6" stroke="#262626" stroke-width="5.8"/>
<text font-size="23.5" fill="#474747" text-anchor="end" transform="translate(2428.30,1492.20) rotate(-70) scale(1,1.03)">0.000</text>
<line x1="2445.5" y1="1456.6" x2="2445.5" y2="1472.6" stroke="#262626" stroke-width="5.8"/>
<text font-size="23.5" fill="#474747" text-anchor="end" transform="translate(2460.90,1492.20) rotate(-70) scale(1,1.03)">0.025</text>
<line x1="2478.1" y1="1456.6" x2="2478.1" y2="1472.6" stroke="#262626" stroke-width="5.8"/>
<text font-size="23.5" fill="#474747" text-anchor="end" transform="translate(2493.50,1492.20) rotate(-70) scale(1,1.03)">0.050</text>
<line x1="2007.5" y1="1180.3" x2="2023.6" y2="1180.3" stroke="#262626" stroke-width="5.8"/>
<text font-size="29.2" fill="#474747" text-anchor="end" x="1992.80" y="1191.10">SAR116 clade</text>
<text font-size="35.25" fill="#000" text-anchor="middle" x="2246.05" y="1602.80">Relative Abundance</text>
</svg>
</body>
</html>
